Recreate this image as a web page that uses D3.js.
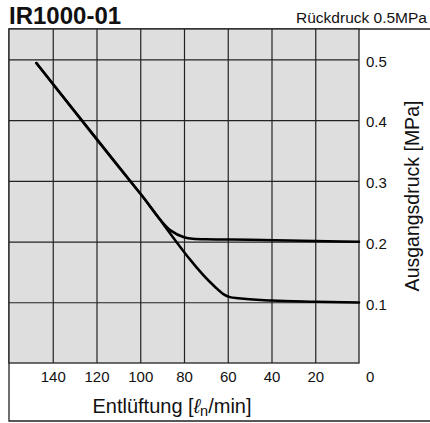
<!DOCTYPE html>
<html><head><meta charset="utf-8">
<script src="https://cdn.jsdelivr.net/npm/d3@7"></script>
<style>
html,body{margin:0;padding:0;background:#fff;}
text{font-family:"Liberation Sans",Arial,Helvetica,sans-serif;fill:#111;}
</style></head>
<body>
<svg id="c" width="430" height="423"></svg>
<script>
const title = "IR1000-01";
const subtitle = "Rückdruck 0.5MPa";
const yTitle = "Ausgangsdruck [MPa]";
const flowTicks = [140, 120, 100, 80, 60, 40, 20];
const pressureTicks = [0.1, 0.2, 0.3, 0.4, 0.5];
const upperFlow = [147.5, 100, 86, 80, 76, 70, 50, 20, 0];
const upperPressure = [0.494, 0.279, 0.218, 0.207, 0.2045, 0.2037, 0.203, 0.201, 0.1995];
const lowerFlow = [147.5, 100, 66, 62, 59, 55, 40, 20, 0];
const lowerPressure = [0.494, 0.279, 0.126, 0.1135, 0.1085, 0.1065, 0.103, 0.101, 0.0995];

const svg = d3.select("#c");
const L = 9, R = 359, T = 29, B = 363;
const x = d3.scaleLinear().domain([160, 0]).range([L, R]);
const y = d3.scaleLinear().domain([0, 0.55]).range([B, T]);

// outer frame
svg.append("path").attr("d", `M430,${T}H${L}V421H430`).attr("fill","none").attr("stroke","#222").attr("stroke-width",1.3);

// plot background
svg.append("rect").attr("x",L).attr("y",T).attr("width",R-L).attr("height",B-T)
  .attr("fill","#dedede").attr("stroke","#222").attr("stroke-width",1.3);

// x axis with grid
const gx = svg.append("g").attr("transform",`translate(0,${B})`)
  .call(d3.axisBottom(x).tickValues(flowTicks).tickSize(-(B-T)).tickPadding(8).tickFormat(d3.format("d")));
gx.select(".domain").remove();
gx.selectAll(".tick line").attr("stroke","#222").attr("stroke-width",1.2);
gx.selectAll(".tick text").attr("font-size",15).attr("fill","#111");

// y axis with grid
const gy = svg.append("g").attr("transform",`translate(${R},0)`)
  .call(d3.axisRight(y).tickValues(pressureTicks).tickSize(-(R-L)).tickPadding(7).tickFormat(d3.format(".1f")));
gy.select(".domain").remove();
gy.selectAll(".tick line").attr("stroke","#222").attr("stroke-width",1.2);
gy.selectAll(".tick text").attr("font-size",15).attr("fill","#111").attr("dy","0.45em");

// shared zero label
svg.append("text").attr("x",R+7).attr("y",B+8).attr("dy","0.71em").attr("font-size",15).text("0");

// curves
const line = d3.line().x(d=>x(d[0])).y(d=>y(d[1])).curve(d3.curveMonotoneX);
[[upperFlow,upperPressure],[lowerFlow,lowerPressure]].forEach(([f,p])=>{
  svg.append("path").datum(f.map((v,i)=>[v,p[i]])).attr("d",line)
    .attr("fill","none").attr("stroke","#000").attr("stroke-width",2.5)
    .attr("stroke-linejoin","round").attr("stroke-linecap","round");
});

// titles
svg.append("text").attr("x",9).attr("y",23.5).attr("font-size",24).attr("font-weight","bold").text(title);
svg.append("text").attr("x",427).attr("y",23).attr("text-anchor","end").attr("font-size",15.5).text(subtitle);

const xt = svg.append("text").attr("x",172).attr("y",413).attr("text-anchor","middle").attr("font-size",20);
xt.append("tspan").text("Entlüftung [");
xt.append("tspan").attr("font-style","italic").text("ℓ");
xt.append("tspan").attr("font-size",14.5).attr("dy",3).text("n");
xt.append("tspan").attr("dy",-3).text("/min]");

svg.append("text").attr("transform",`translate(419,${(T+B)/2}) rotate(-90)`)
  .attr("text-anchor","middle").attr("font-size",19.5).text(yTitle);
</script>
</body></html>
